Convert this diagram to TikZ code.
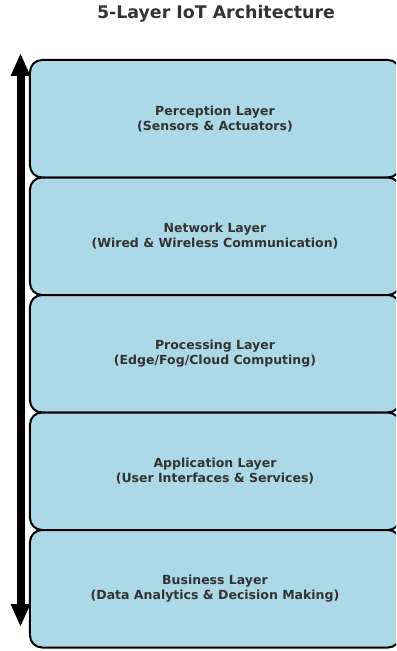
\documentclass[tikz,border=0pt]{standalone}
\usepackage{fontspec}
\setmainfont{DejaVu Sans}
\usetikzlibrary{arrows.meta}
\definecolor{layerfill}{HTML}{ADD8E6}
\definecolor{txt}{HTML}{333333}
\tikzset{
  layerbox/.style={draw=black, line width=2bp, fill=layerfill, rounded corners=12bp,
    minimum width=370bp, minimum height=117.5bp, inner sep=0pt,
    align=center, text=txt, font=\fontsize{12.5bp}{15bp}\selectfont\bfseries},
  titletext/.style={text=txt, font=\fontsize{17.4bp}{20bp}\selectfont\bfseries, inner sep=0pt},
  bigarrow/.style={line width=8bp, {Triangle[width=18bp,length=23bp]}-{Triangle[width=18bp,length=23bp]}}
}
\begin{document}
\begin{tikzpicture}[x=1bp,y=-1bp]
\useasboundingbox (0,0) rectangle (396,651);
\clip (0,0) rectangle (396,651);
\node[titletext] (title) at (216,14) {5-Layer IoT Architecture};
\node[layerbox] (l1) at (215,118.75) {Perception Layer\\(Sensors \& Actuators)};
\node[layerbox] (l2) at (215,236.25) {Network Layer\\(Wired \& Wireless Communication)};
\node[layerbox] (l3) at (215,353.75) {Processing Layer\\(Edge/Fog/Cloud Computing)};
\node[layerbox] (l4) at (215,471.25) {Application Layer\\(User Interfaces \& Services)};
\node[layerbox] (l5) at (215,588.75) {Business Layer\\(Data Analytics \& Decision Making)};
\coordinate (atop) at (20.5,53);
\coordinate (abot) at (20.5,627);
\draw[bigarrow] (abot) -- (atop);
\end{tikzpicture}
\end{document}
